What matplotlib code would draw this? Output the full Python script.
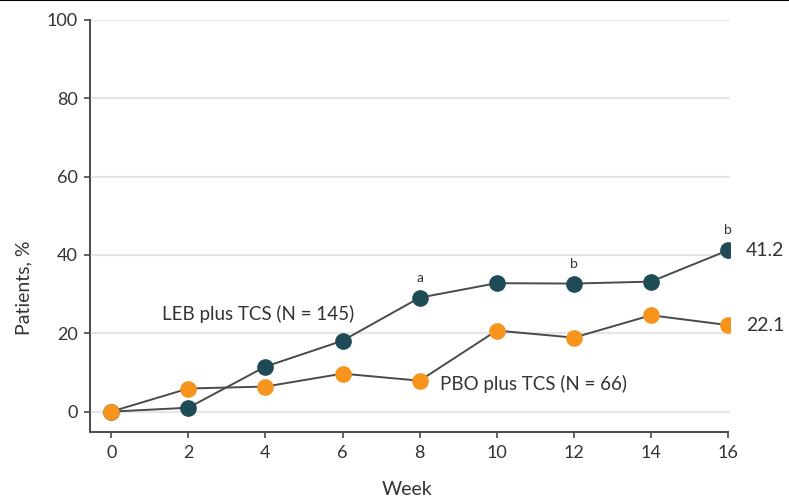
import matplotlib
matplotlib.use("Agg")
import matplotlib.pyplot as plt
from matplotlib.lines import Line2D

plt.rcParams['font.family'] = ['Lato', 'DejaVu Sans']

# datos
weeks = [0, 2, 4, 6, 8, 10, 12, 14, 16]
leb = [0, 1.0, 11.5, 18.1, 29.1, 32.8, 32.7, 33.2, 41.2]
pbo = [0, 5.9, 6.4, 9.7, 7.9, 20.7, 18.9, 24.6, 22.1]
leb_label = "LEB plus TCS (N = 145)"
pbo_label = "PBO plus TCS (N = 66)"
notes = [(8, "a"), (12, "b"), (16, "b")]

teal = "#1f4b57"
orange = "#f7941d"
line_col = "#4a4a4a"
txt_col = "#333333"

fig = plt.figure(figsize=(7.89, 4.99), dpi=100)
ax = fig.add_axes([90 / 789, 67 / 499, 640 / 789, 412 / 499])

for i in range(0, 101, 20):
    ax.axhline(i, xmin=0.005, color="#e6e6e6", lw=1.6, zorder=0)

ax.plot(weeks, leb, color=line_col, lw=1.4, marker="o", ms=11,
        mfc=teal, mec=teal, zorder=3)
ax.plot(weeks, pbo, color=line_col, lw=1.4, marker="o", ms=11,
        mfc=orange, mec=orange, zorder=4)

ax.set_xlim(-0.55, 16.05)
ax.set_ylim(-5.2, 100)
ax.set_xticks(weeks)
ax.set_yticks(range(0, 101, 20))
ax.tick_params(direction="out", length=4, width=1.2, color=line_col,
               labelsize=13, labelcolor=txt_col, pad=5)
for s in ["top", "right"]:
    ax.spines[s].set_visible(False)
for s in ["left", "bottom"]:
    ax.spines[s].set_color(line_col)
    ax.spines[s].set_linewidth(1.4)
ax.spines["left"].set_bounds(-5.2, 100)
ax.spines["bottom"].set_bounds(-0.55, 16)

ax.set_xlabel("Week", fontsize=14, color=txt_col, labelpad=10)
ax.set_ylabel("Patients, %", fontsize=14, color=txt_col, labelpad=12)
ax.xaxis.set_label_coords(0.495, -0.12)
ax.yaxis.set_label_coords(-0.09, 0.35)

for x, t in notes:
    y = leb[weeks.index(x)]
    ax.annotate(t, (x, y), xytext=(0, 10), textcoords="offset points",
                ha="center", va="bottom", fontsize=10, color=txt_col)

ax.annotate(f"{leb[-1]:.1f}", (weeks[-1], leb[-1]), xytext=(13, 0),
            textcoords="offset points", ha="left", va="center",
            fontsize=14, color=txt_col, annotation_clip=False)
ax.annotate(f"{pbo[-1]:.1f}", (weeks[-1], pbo[-1]), xytext=(13, 0),
            textcoords="offset points", ha="left", va="center",
            fontsize=14, color=txt_col, annotation_clip=False)

ax.text(1.32, 24.9, leb_label, fontsize=13.5, color=txt_col, va="center")
ax.text(8.53, 7.0, pbo_label, fontsize=13.5, color=txt_col, va="center")

fig.add_artist(Line2D([0, 1], [0.999, 0.999], color="black", lw=1.5,
                      transform=fig.transFigure))

fig.savefig("out.png", dpi=100)
